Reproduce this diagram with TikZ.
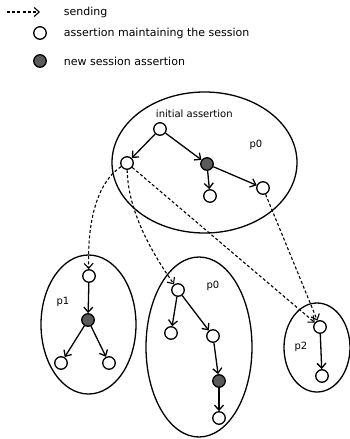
\documentclass[tikz,border=0pt]{standalone}
\usepackage{fontspec}
\setmainfont{DejaVu Sans}
\usetikzlibrary{shapes.geometric,arrows.meta}

\definecolor{newgray}{HTML}{5A5A5A}

\tikzset{
    keep/.style={circle,draw,fill=white,minimum size=12.5pt,inner sep=0pt},
    fresh/.style={keep,fill=newgray},
    proc/.style={ellipse,draw,inner sep=0pt},
    sending/.style={->,line width=1.1pt,dash pattern=on 3pt off 2.2pt},
    lbl/.style={font=\fontsize{10}{12}\selectfont},
    legtxt/.style={anchor=west,font=\fontsize{11}{13}\selectfont}
}

\begin{document}
\begin{tikzpicture}[x=1pt,y=-1pt,line width=1.3pt,>={Straight Barb[length=5pt,width=9pt]}]
    \useasboundingbox (0,0) rectangle (350,439);

    % legend
    \coordinate (legA) at (7,12);
    \coordinate (legB) at (40,12);
    \draw[sending](legA)--(legB);
    \node[legtxt] (legsend) at (60,12) {sending};
    \node[keep] (legkeep) at (40,33) {};
    \node[legtxt] (legkeeptxt) at (60,33) {assertion maintaining the session};
    \node[fresh] (legfresh) at (40,61) {};
    \node[legtxt] (legfreshtxt) at (60,61) {new session assertion};

    % processes
    \node[proc,minimum width=185,minimum height=141] (proc0) at (204.5,162.5) {};
    \node[proc,minimum width=95,minimum height=139] (proc1) at (88.5,324.5) {};
    \node[proc,minimum width=106,minimum height=180] (proc0b) at (199,347) {};
    \node[proc,minimum width=66,minimum height=89] (proc2) at (317,347.5) {};
    \node[lbl] (p0) at (256,145) {p0};
    \node[lbl] (p1) at (63,302) {p1};
    \node[lbl] (p0b) at (213,286) {p0};
    \node[lbl] (p2) at (301,347) {p2};

    % p0
    \node[keep] (root) at (160,129) {};
    \node[lbl,anchor=south west] (rootlbl) at (152,122) {initial assertion};
    \node[keep] (a) at (127,163) {};
    \node[fresh] (b) at (207,164) {};
    \node[keep] (c) at (210,196) {};
    \node[keep] (d) at (263,188) {};
    \draw[->](root)--(a);
    \draw[->](root)--(b);
    \draw[->](b)--(c);
    \draw[->](b)--(d);

    % p1
    \node[keep] (e) at (89,276) {};
    \node[fresh] (f) at (88,320) {};
    \node[keep] (g) at (61,363) {};
    \node[keep] (h) at (109,363) {};
    \draw[->](e)--(f);
    \draw[->](f)--(g);
    \draw[->](f)--(h);

    % second p0
    \node[keep] (i) at (178,290) {};
    \node[keep] (j) at (171,333) {};
    \node[keep] (k) at (213,336) {};
    \node[fresh] (l) at (219,381) {};
    \node[keep] (m) at (219,418) {};
    \draw[->](i)--(j);
    \draw[->](i)--(k);
    \draw[->](k)--(l);
    \draw[->](l)--(m);

    % p2
    \node[keep] (n) at (320,327) {};
    \node[keep] (o) at (322,376) {};
    \draw[->](n)--(o);

    % sending
    \draw[sending](a) .. controls (100,180) and (87,215) .. (e);
    \draw[sending](a) .. controls (128,210) and (150,250) .. (i);
    \draw[sending](a)--(n);
    \draw[sending](d)--(n);
\end{tikzpicture}
\end{document}
